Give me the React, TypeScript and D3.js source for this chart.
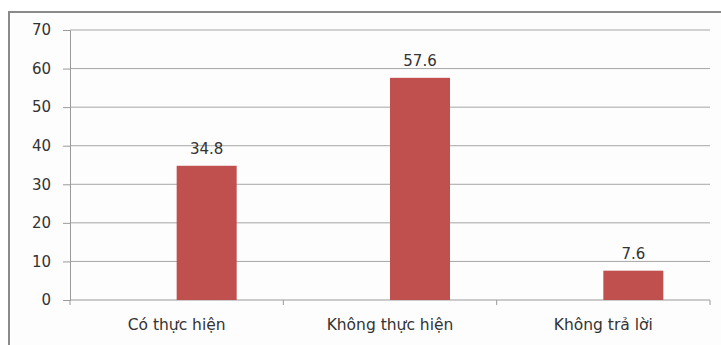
import { useRef, useEffect } from "react";
import * as d3 from "d3";

const categories = ["Có thực hiện", "Không thực hiện", "Không trả lời"];
const values = [34.8, 57.6, 7.6];
const yTicks = [0, 10, 20, 30, 40, 50, 60, 70];

const W = 721;
const H = 345;
const BAR = "#C0504D";
const FONT = "'DejaVu Sans', sans-serif";

export default function App() {
  const svgRef = useRef<SVGSVGElement>(null);

  useEffect(() => {
    if (!svgRef.current) return;
    const svg = d3.select(svgRef.current);
    svg.selectAll("*").remove();

    const left = 70;
    const right = 710;
    const top = 30;
    const bottom = 300;

    const x = d3.scaleBand<string>().domain(categories).range([left, right]).padding(0);
    const y = d3.scaleLinear().domain([0, 70]).range([bottom, top]);
    const barW = 60;

    // outer frame
    svg
      .append("rect")
      .attr("x", 9)
      .attr("y", 12)
      .attr("width", 730)
      .attr("height", 360)
      .attr("fill", "#fdfdfd")
      .attr("stroke", "#8a8a8a")
      .attr("stroke-width", 2);

    // gridlines
    svg
      .append("g")
      .selectAll("line")
      .data(yTicks.filter((t) => t > 0))
      .join("line")
      .attr("x1", left)
      .attr("x2", right)
      .attr("y1", (d) => y(d))
      .attr("y2", (d) => y(d))
      .attr("stroke", "#a6a6a6")
      .attr("stroke-width", 1);

    // y axis
    const yAxis = svg
      .append("g")
      .attr("transform", `translate(${left},0)`)
      .call(d3.axisLeft(y).tickValues(yTicks).tickSize(7).tickPadding(12));
    yAxis.select(".domain").attr("stroke", "#9a9a9a");
    yAxis.selectAll(".tick line").attr("stroke", "#9a9a9a");
    yAxis
      .selectAll(".tick text")
      .attr("fill", "#333")
      .attr("font-size", 15)
      .attr("font-family", FONT);

    // x axis
    const xAxis = svg
      .append("g")
      .attr("transform", `translate(0,${bottom})`);
    xAxis
      .append("line")
      .attr("x1", left)
      .attr("x2", right)
      .attr("stroke", "#9a9a9a");
    xAxis
      .selectAll("line.tk")
      .data([...categories.map((c) => x(c)!), right])
      .join("line")
      .attr("class", "tk")
      .attr("x1", (d) => d)
      .attr("x2", (d) => d)
      .attr("y1", 0)
      .attr("y2", 5)
      .attr("stroke", "#9a9a9a");
    xAxis
      .selectAll("text")
      .data(categories)
      .join("text")
      .attr("x", (d) => x(d)! + x.bandwidth() / 2)
      .attr("y", 30)
      .attr("text-anchor", "middle")
      .attr("fill", "#333")
      .attr("font-size", 15.5)
      .attr("font-family", FONT)
      .text((d) => d);

    // bars
    const data = categories.map((c, i) => ({ c, v: values[i] }));
    svg
      .append("g")
      .selectAll("rect")
      .data(data)
      .join("rect")
      .attr("x", (d) => x(d.c)! + x.bandwidth() / 2)
      .attr("y", (d) => y(d.v))
      .attr("width", barW)
      .attr("height", (d) => bottom - y(d.v))
      .attr("fill", BAR);

    // data labels
    svg
      .append("g")
      .selectAll("text")
      .data(data)
      .join("text")
      .attr("x", (d) => x(d.c)! + x.bandwidth() / 2 + barW / 2)
      .attr("y", (d) => y(d.v) - 12)
      .attr("text-anchor", "middle")
      .attr("fill", "#333")
      .attr("font-size", 15)
      .attr("font-family", FONT)
      .text((d) => d.v.toFixed(1));
  }, []);

  return (
    <svg
      ref={svgRef}
      width={W}
      height={H}
      style={{ position: "fixed", left: 0, top: 0, background: "#fff" }}
    />
  );
}
